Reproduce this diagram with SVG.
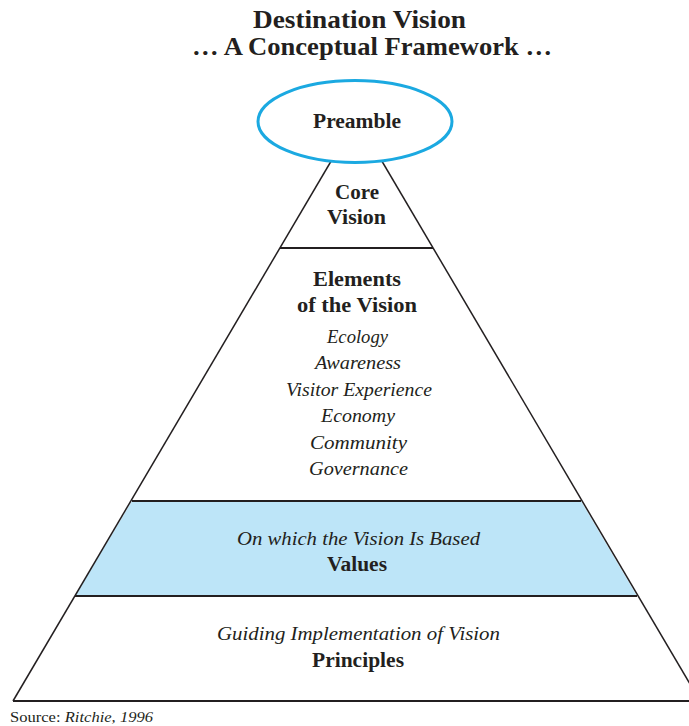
<svg xmlns="http://www.w3.org/2000/svg" width="689" height="726" viewBox="0 0 689 726">
<style>
text{font-family:"Liberation Serif","Times New Roman",serif;fill:#231f20;text-anchor:middle}
.t{font-size:25px;font-weight:bold}
.b{font-size:20.5px;font-weight:bold}
.i{font-size:19.5px;font-style:italic}
.src{font-size:15px;text-anchor:start}
.edge{stroke:#231f20;stroke-width:1.5;fill:none}
.div{stroke:#231f20;stroke-width:2;fill:none}
</style>
<rect width="689" height="726" fill="#fff"/>
<g id="title">
<text class="t" x="359.5" y="28" textLength="213" lengthAdjust="spacingAndGlyphs">Destination Vision</text>
<text class="t" x="372" y="55" textLength="360" lengthAdjust="spacingAndGlyphs">… A Conceptual Framework …</text>
</g>
<g id="values-band">
<polygon points="132,501 581,501 637,596 75,596" fill="#bde5f8"/>
</g>
<g id="connectors">
<line class="edge" x1="356.5" y1="118" x2="13" y2="701"/>
<line class="edge" x1="356.5" y1="118" x2="700" y2="701"/>
<line class="div" x1="13" y1="701" x2="689" y2="701"/>
<line class="div" x1="280" y1="248" x2="433" y2="248"/>
<line class="div" x1="132" y1="501" x2="581" y2="501"/>
<line class="div" x1="75" y1="596" x2="637" y2="596"/>
</g>
<g id="preamble">
<ellipse cx="355" cy="121.5" rx="97" ry="41" fill="#fff" stroke="#1ba9e1" stroke-width="3"/>
<text class="b" x="357" y="128" textLength="88" lengthAdjust="spacingAndGlyphs">Preamble</text>
</g>
<g id="core-vision">
<text class="b" x="357" y="199" textLength="44" lengthAdjust="spacingAndGlyphs">Core</text>
<text class="b" x="356.5" y="224" textLength="59" lengthAdjust="spacingAndGlyphs">Vision</text>
</g>
<g id="elements">
<text class="b" x="357" y="286" textLength="88" lengthAdjust="spacingAndGlyphs">Elements</text>
<text class="b" x="357" y="312" textLength="120" lengthAdjust="spacingAndGlyphs">of the Vision</text>
<text class="i" x="357.5" y="343" textLength="61" lengthAdjust="spacingAndGlyphs">Ecology</text>
<text class="i" x="358" y="369" textLength="86" lengthAdjust="spacingAndGlyphs">Awareness</text>
<text class="i" x="359" y="396" textLength="146" lengthAdjust="spacingAndGlyphs">Visitor Experience</text>
<text class="i" x="358" y="422" textLength="74" lengthAdjust="spacingAndGlyphs">Economy</text>
<text class="i" x="358.5" y="449" textLength="97" lengthAdjust="spacingAndGlyphs">Community</text>
<text class="i" x="358.5" y="475" textLength="99" lengthAdjust="spacingAndGlyphs">Governance</text>
</g>
<g id="values">
<text class="i" x="358.5" y="545" textLength="243" lengthAdjust="spacingAndGlyphs">On which the Vision Is Based</text>
<text class="b" x="357" y="571" textLength="60" lengthAdjust="spacingAndGlyphs">Values</text>
</g>
<g id="principles">
<text class="i" x="358.5" y="640" textLength="283" lengthAdjust="spacingAndGlyphs">Guiding Implementation of Vision</text>
<text class="b" x="358" y="667" textLength="92" lengthAdjust="spacingAndGlyphs">Principles</text>
</g>
<g id="source">
<text class="src" x="10" y="722" textLength="143" lengthAdjust="spacingAndGlyphs">Source: <tspan font-style="italic">Ritchie, 1996</tspan></text>
</g>
</svg>
